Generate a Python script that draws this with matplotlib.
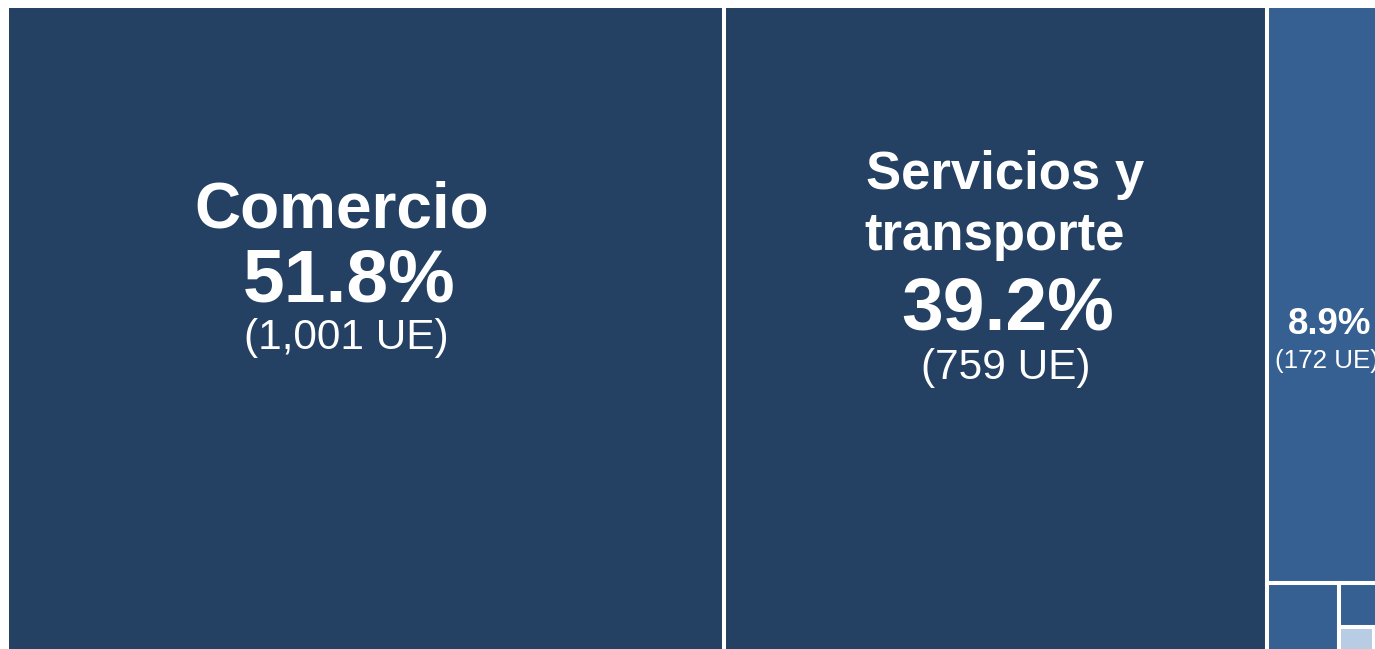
import matplotlib.pyplot as plt
from matplotlib.patches import Rectangle

# --- Data (UE por sector) ---
sectores = ['Comercio', 'Servicios y transporte', 'Industria', 'Otro A', 'Otro B', 'Otro C', 'Otro D']
valores = [1001, 759, 172, 12.6, 6.3, 2.9, 2.8]
porcentajes = ['51.8%', '39.2%', '8.9%']
etiquetas_ue = ['(1,001 UE)', '(759 UE)', '(172 UE)']

# slice direction for each item ('h' = column, 'v' = row)
direcciones = ['h', 'h', 'v', 'h', 'v', 'h', 'h']
colores = ['#244062', '#244062', '#366092', '#366092', '#366092', '#B8CCE4', '#B8CCE4']

# full treemap box (the picture is a crop of it)
X0, Y0, W, H = 7, 6, 1400.8, 660


def slice_layout(vals, dirs, x, y, w, h):
    rects = []
    resto = sum(vals)
    for v, d in zip(vals, dirs):
        if d == 'h':
            ww = w * v / resto
            rects.append((x, y, ww, h))
            x += ww
            w -= ww
        else:
            hh = h * v / resto
            rects.append((x, y, w, hh))
            y += hh
            h -= hh
        resto -= v
    return rects


plt.rcParams['font.family'] = ['Liberation Sans', 'DejaVu Sans']

fig = plt.figure(figsize=(13.75, 6.49), dpi=100, facecolor='white')
ax = fig.add_axes([0, 0, 1, 1])
ax.set_xlim(0, 1375)
ax.set_ylim(649, 0)
ax.axis('off')

for (x, y, w, h), c in zip(slice_layout(valores, direcciones, X0, Y0, W, H), colores):
    ax.add_patch(Rectangle((x, y), w, h, facecolor=c, edgecolor='white', linewidth=2.9))

# --- Labels ---
txt = dict(color='white', va='baseline')
ax.text(341.7, 228, 'Comercio', fontsize=46, fontweight='bold', ha='center', **txt)
ax.text(349.5, 301, porcentajes[0], fontsize=54, fontweight='bold', ha='center', **txt)
ax.text(346, 349, etiquetas_ue[0], fontsize=30.5, ha='center', **txt)

ax.text(866, 189, 'Servicios y', fontsize=38, fontweight='bold', ha='left', **txt)
ax.text(864, 250, 'transporte', fontsize=38, fontweight='bold', ha='left', **txt)
ax.text(1007.5, 329, porcentajes[1], fontsize=54, fontweight='bold', ha='center', **txt)
ax.text(1006, 379, etiquetas_ue[1], fontsize=30.5, ha='center', **txt)

ax.text(1330, 334, porcentajes[2], fontsize=26.5, fontweight='bold', ha='center', **txt)
ax.text(1327, 368, etiquetas_ue[2], fontsize=18.7, ha='center', **txt)

fig.savefig('out.png', dpi=100, facecolor='white')
